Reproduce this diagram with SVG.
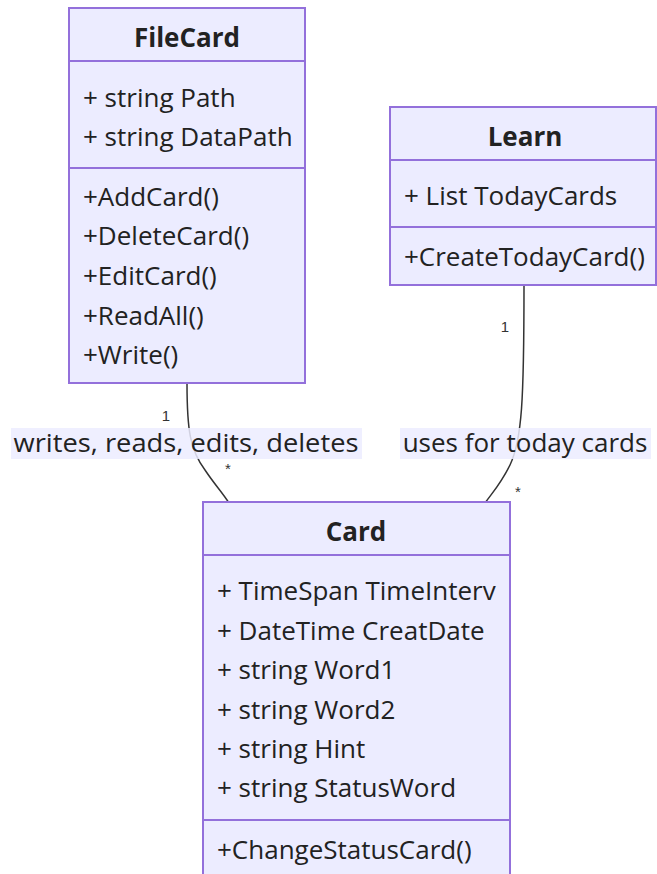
<svg xmlns="http://www.w3.org/2000/svg" width="657" height="874" viewBox="0 0 657 874">
<style>
.box{fill:#ECECFF;stroke:#9370DB;stroke-width:2}
.div{stroke:#9370DB;stroke-width:2}
.t{font-family:"Open Sans","DejaVu Sans",sans-serif;font-size:26px;fill:#222}
.h{font-family:"Open Sans","DejaVu Sans",sans-serif;font-size:26px;font-weight:bold;fill:#222;text-anchor:middle}
.edge{fill:none;stroke:#333;stroke-width:1.5}
.lblbg{fill:#ECECFF;opacity:0.85}
.card{font-family:"Liberation Sans",Arial,sans-serif;font-size:15px;fill:#333;text-anchor:middle}
</style>
<rect width="657" height="874" fill="#fff"/>
<g id="connectors">
<path class="edge" d="M187,383 C187,430 190,450 205,470 C215,485 222,492 229,503"/>
<path class="edge" d="M524,285 C524,400 522,440 510,465 C500,485 492,493 485,503"/>
<rect class="lblbg" x="11" y="428" width="351" height="31"/>
<text class="t" x="186" y="452" text-anchor="middle" textLength="345" lengthAdjust="spacingAndGlyphs">writes, reads, edits, deletes</text>
<rect class="lblbg" x="400" y="428" width="251" height="31"/>
<text class="t" x="525" y="452" text-anchor="middle">uses for today cards</text>
<text class="card" x="166" y="421">1</text>
<text class="card" x="228" y="474">*</text>
<text class="card" x="505" y="332">1</text>
<text class="card" x="518" y="497">*</text>
</g>
<g id="FileCard">
<rect class="box" x="69" y="8" width="236" height="375"/>
<line class="div" x1="69" y1="61" x2="305" y2="61"/>
<line class="div" x1="69" y1="168" x2="305" y2="168"/>
<text class="h" x="187" y="47">FileCard</text>
<text class="t" x="83" y="107">+ string Path</text>
<text class="t" x="83" y="146">+ string DataPath</text>
<text class="t" x="83" y="206">+AddCard()</text>
<text class="t" x="83" y="245">+DeleteCard()</text>
<text class="t" x="83" y="285">+EditCard()</text>
<text class="t" x="83" y="325">+ReadAll()</text>
<text class="t" x="83" y="364">+Write()</text>
</g>
<g id="Learn">
<rect class="box" x="390" y="107" width="266" height="178"/>
<line class="div" x1="390" y1="160" x2="656" y2="160"/>
<line class="div" x1="390" y1="227" x2="656" y2="227"/>
<text class="h" x="525" y="146">Learn</text>
<text class="t" x="404" y="205">+ List TodayCards</text>
<text class="t" x="404" y="266">+CreateTodayCard()</text>
</g>
<g id="Card">
<rect class="box" x="203" y="502" width="307" height="390"/>
<line class="div" x1="203" y1="555" x2="510" y2="555"/>
<line class="div" x1="203" y1="820" x2="510" y2="820"/>
<text class="h" x="356" y="541">Card</text>
<text class="t" x="217" y="600">+ TimeSpan TimeInterv</text>
<text class="t" x="217" y="640">+ DateTime CreatDate</text>
<text class="t" x="217" y="679">+ string Word1</text>
<text class="t" x="217" y="719">+ string Word2</text>
<text class="t" x="217" y="758">+ string Hint</text>
<text class="t" x="217" y="797">+ string StatusWord</text>
<text class="t" x="217" y="859">+ChangeStatusCard()</text>
</g>
</svg>
